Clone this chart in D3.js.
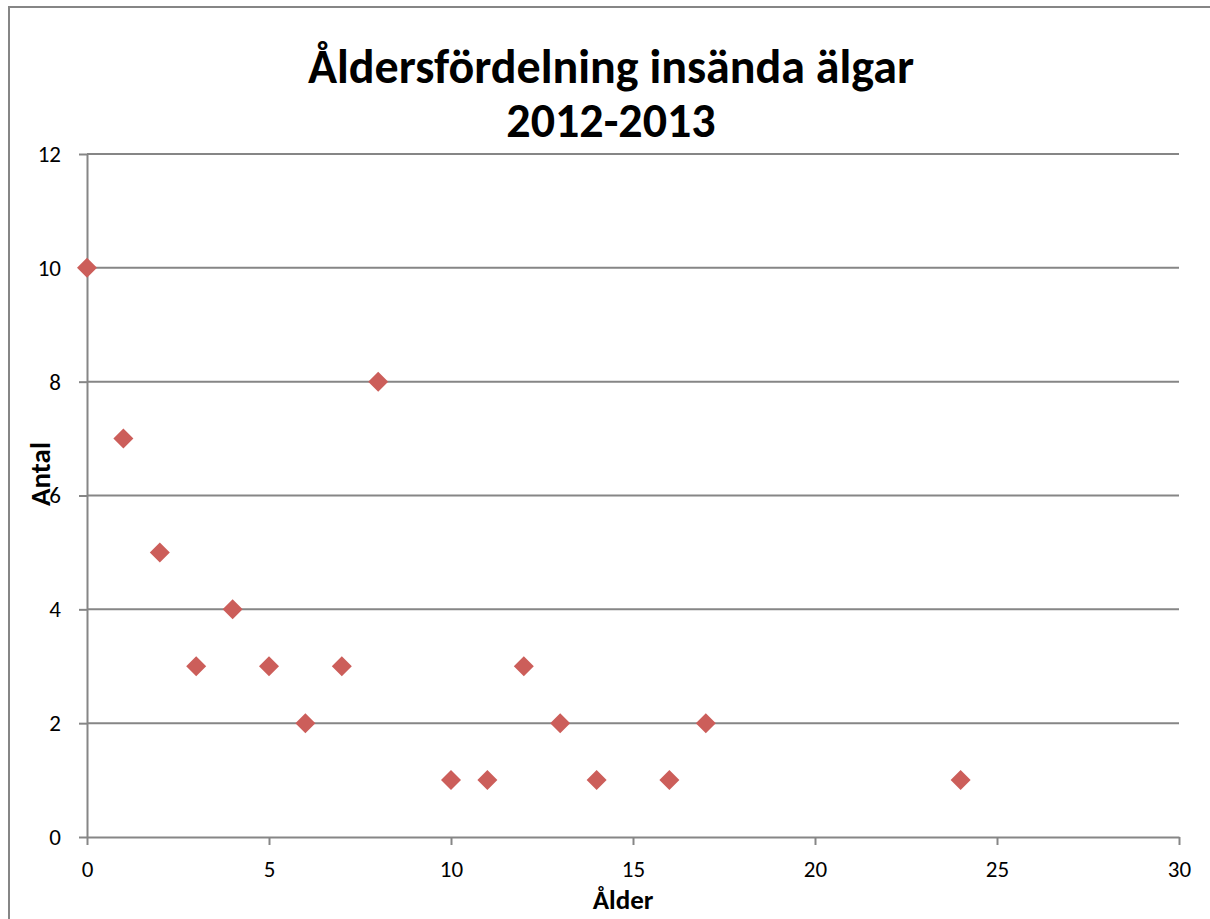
<!DOCTYPE html>
<html>
<head>
<meta charset="utf-8">
<script src="https://cdn.jsdelivr.net/npm/d3@7"></script>
<style>
  body { margin: 0; background: #fff; }
  svg { font-family: Carlito, Calibri, "Open Sans", sans-serif; }
  .tick text { fill: #000; }
  .domain, .tick line { stroke: #868686; stroke-width: 2; }
</style>
</head>
<body>
<div id="chart"></div>
<script>
// Chart data
var titleLines = ["Åldersfördelning insända älgar", "2012-2013"];
var ages = [0, 1, 2, 3, 4, 5, 6, 7, 8, 10, 11, 12, 13, 14, 16, 17, 24];
var counts = [10, 7, 5, 3, 4, 3, 2, 3, 8, 1, 1, 3, 2, 1, 1, 2, 1];
var xTicks = [0, 5, 10, 15, 20, 25, 30];
var yTicks = [0, 2, 4, 6, 8, 10, 12];

var svgWidth = 1210;
var svgHeight = 919;
var fontFam = "Carlito, Calibri, 'Open Sans', sans-serif";

var margin = { top: 154, right: 31, bottom: 82, left: 87 };
var width = svgWidth - margin.left - margin.right;
var height = svgHeight - margin.top - margin.bottom;

var svg = d3.select("#chart")
  .append("svg")
  .attr("width", svgWidth)
  .attr("height", svgHeight);

// outer chart border
svg.append("rect")
  .attr("x", 9).attr("y", 7)
  .attr("width", 1220).attr("height", 940)
  .attr("fill", "none")
  .attr("stroke", "#868686")
  .attr("stroke-width", 2);

var chartGroup = svg.append("g")
  .attr("transform", `translate(${margin.left}, ${margin.top})`);

var x = d3.scaleLinear().domain([0, 30]).range([0, width]);
var y = d3.scaleLinear().domain([0, 12]).range([height, 0]);

// horizontal gridlines
chartGroup.selectAll(".grid")
  .data(yTicks.slice(1))
  .enter()
  .append("line")
  .attr("class", "grid")
  .attr("x1", 0).attr("x2", width)
  .attr("y1", d => y(d)).attr("y2", d => y(d))
  .attr("stroke", "#868686")
  .attr("stroke-width", 2);

var xAxis = d3.axisBottom(x).tickValues(xTicks).tickSize(8).tickSizeOuter(0).tickPadding(16);
var yAxis = d3.axisLeft(y).tickValues(yTicks).tickSize(8).tickSizeOuter(0).tickPadding(18);

chartGroup.append("g")
  .attr("transform", `translate(0, ${height})`)
  .call(xAxis)
  .attr("font-family", fontFam)
  .attr("font-size", 23);
chartGroup.append("g")
  .call(yAxis)
  .attr("font-family", fontFam)
  .attr("font-size", 23);

// diamond markers
chartGroup.selectAll(".pt")
  .data(ages)
  .enter()
  .append("path")
  .attr("class", "pt")
  .attr("d", d3.symbol().type(d3.symbolSquare).size(200))
  .attr("transform", (d, i) => `translate(${x(d)}, ${y(counts[i])}) rotate(45)`)
  .attr("fill", "#cc5e5a");

// title
svg.append("text")
  .attr("text-anchor", "middle")
  .attr("font-weight", "bold")
  .attr("font-size", 48)
  .selectAll("tspan")
  .data(titleLines)
  .enter()
  .append("tspan")
  .attr("x", 611)
  .attr("y", (d, i) => 83 + i * 54)
  .text(d => d);

// axis labels
svg.append("text")
  .attr("transform", "translate(50, 474) rotate(-90)")
  .attr("text-anchor", "middle")
  .attr("font-weight", "bold")
  .attr("font-size", 29)
  .text("Antal");

svg.append("text")
  .attr("x", 623)
  .attr("y", 909)
  .attr("text-anchor", "middle")
  .attr("font-weight", "bold")
  .attr("font-size", 27)
  .text("Ålder");
</script>
</body>
</html>
